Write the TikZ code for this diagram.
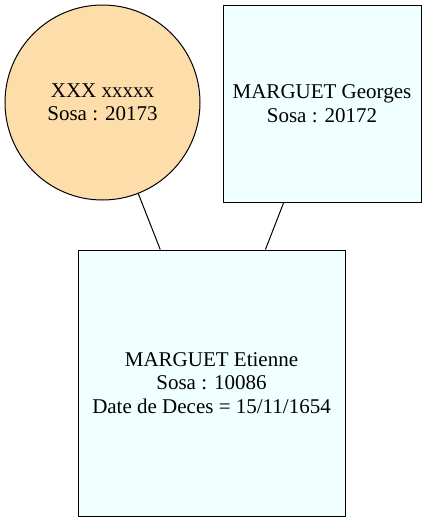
\documentclass[tikz,border=0pt]{standalone}
\usepackage{fontspec}
\setmainfont{Liberation Serif}
\usepackage{tikz}

\definecolor{sosacirc}{HTML}{FDDEAB}
\definecolor{sosabox}{HTML}{F0FFFF}

\begin{document}
\begin{tikzpicture}[x=1pt,y=-1pt,line width=1pt,
  person/.style={draw=black,inner sep=0pt,align=center,
    font=\fontsize{21}{23.5}\selectfont},
  femme/.style={person,circle,fill=sosacirc,minimum size=195pt},
  homme/.style={person,rectangle,fill=sosabox}]
\useasboundingbox (0,0) rectangle (426,523);
\node[femme] at (102.5,102.5) (sosa-20173) {XXX xxxxx\\Sosa : 20173};
\node[homme,minimum width=198pt,minimum height=197pt] at (322,103.5) (sosa-20172) {MARGUET Georges\\Sosa : 20172};
\node[homme,minimum width=267pt,minimum height=266pt] at (211.5,383) (sosa-10086) {MARGUET Etienne\\Sosa : 10086\\Date de Deces = 15/11/1654};
\draw (sosa-20173) -- (sosa-10086.111);
\draw (sosa-20172) -- (sosa-10086.68);
\end{tikzpicture}
\end{document}
